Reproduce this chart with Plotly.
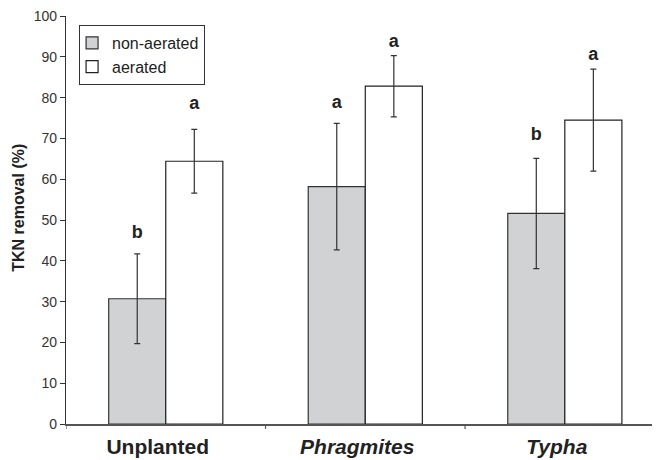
import plotly.graph_objects as go

categories = ["Unplanted", "Phragmites", "Typha"]
cat_italic = [False, True, True]
non_aerated = [30.7, 58.2, 51.6]
non_aerated_err = [11.0, 15.5, 13.5]
aerated = [64.4, 82.8, 74.5]
aerated_err = [7.8, 7.5, 12.5]
letters_non = ["b", "a", "b"]
letters_aer = ["a", "a", "a"]
letters_non_y = [46.6, 78.5, 70.7]
letters_aer_y = [78.3, 93.6, 90.4]

FONT = "Liberation Sans, Arial, sans-serif"
xpos = list(range(len(categories)))
bw = 0.286

fig = go.Figure()
fig.add_trace(go.Bar(
    x=xpos, y=non_aerated, name="non-aerated", width=bw,
    marker=dict(color="#d1d2d4", line=dict(color="#333333", width=1.2)),
    error_y=dict(type="data", array=non_aerated_err, color="#333333", thickness=1.2, width=3),
))
fig.add_trace(go.Bar(
    x=xpos, y=aerated, name="aerated", width=bw,
    marker=dict(color="#ffffff", line=dict(color="#222222", width=1.2)),
    error_y=dict(type="data", array=aerated_err, color="#333333", thickness=1.2, width=3),
))
fig.add_trace(go.Scatter(
    x=[i - bw / 2 for i in xpos], y=letters_non_y, text=letters_non, mode="text",
    textfont=dict(family=FONT, size=18, color="#222222", weight="bold"), showlegend=False, hoverinfo="skip", cliponaxis=False))
fig.add_trace(go.Scatter(
    x=[i + bw / 2 for i in xpos], y=letters_aer_y, text=letters_aer, mode="text",
    textfont=dict(family=FONT, size=18, color="#222222", weight="bold"), showlegend=False, hoverinfo="skip", cliponaxis=False))

ticktext = [f"<b><i>{c}</i></b>" if it else f"<b>{c}</b>" for c, it in zip(categories, cat_italic)]

fig.update_layout(
    width=652, height=452,
    margin=dict(l=58, r=0, t=8, b=36, autoexpand=False),
    paper_bgcolor="white", plot_bgcolor="white",
    barmode="group", bargap=0.428, bargroupgap=0,
    font=dict(family=FONT, color="#333333"),
    showlegend=True,
    legend=dict(x=0.022, y=0.978, xanchor="left", yanchor="top",
                bordercolor="#333333", borderwidth=1, bgcolor="white",
                font=dict(size=16, color="#222222"), tracegroupgap=0,
                itemwidth=30, indentation=-8),
    xaxis=dict(
        range=[-0.5, 2.477], tickmode="array", tickvals=xpos, ticktext=ticktext,
        showline=True, linecolor="#555555", linewidth=1.5, automargin=False,
        ticks="", showgrid=False, zeroline=False,
        ticklabelshift=-8, ticklabelstandoff=3,
        tickfont=dict(size=21, color="#222222"),
    ),
    yaxis=dict(
        range=[0, 100], dtick=10, showline=True, linecolor="#333333", linewidth=1.2,
        ticks="outside", ticklen=5, tickcolor="#333333", showgrid=False, zeroline=False,
        automargin=False, ticklabeloverflow="allow",
        tickfont=dict(size=14, color="#333333"),
    ),
    annotations=[dict(
        text="<b>TKN removal (%)</b>", textangle=-90, xref="paper", yref="paper",
        x=0, y=0.53, xanchor="center", yanchor="middle", xshift=-47, showarrow=False,
        font=dict(size=16, color="#222222"),
    )],
)
# category boundary ticks on the x axis
for b in [-0.5, 0.5, 1.5]:
    fig.add_shape(type="line", xref="x", yref="paper", x0=b, x1=b, y0=0, y1=-0.012,
                  line=dict(color="#555555", width=1.2))

fig.write_html("out.html")
